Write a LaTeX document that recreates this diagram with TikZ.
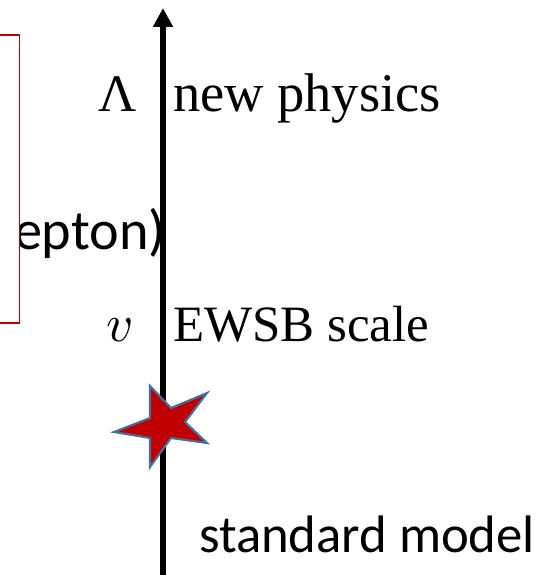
\documentclass[tikz,border=0pt]{standalone}
\usepackage{fontspec}
\setmainfont{Liberation Serif}
\setsansfont{Carlito}
\DeclareFontShape{OML}{cmm}{m}{it}{<->cmmi10}{}
\usetikzlibrary{arrows.meta}
\definecolor{cadrerouge}{RGB}{192,0,0}
\definecolor{etoilerouge}{RGB}{192,0,0}
\definecolor{bordbleu}{RGB}{65,113,156}

\begin{document}
\begin{tikzpicture}[x=0.02cm, y=-0.02cm,
    every node/.style={inner sep=0pt, outer sep=0pt},
    echelle/.style={font=\fontsize{30}{36}\selectfont, anchor=base west},
    symbole/.style={font=\fontsize{30}{36}\selectfont, anchor=base east},
    texte/.style={font=\fontsize{30}{36}\selectfont\sffamily, anchor=base west}]
    \useasboundingbox (0,0) rectangle (548,575);

    % energy axis
    \coordinate (axbas) at (163,580);
    \coordinate (axhaut) at (163,8);
    \draw[line width=3.1pt, -{Triangle[width=0.38cm,length=0.38cm]}] (axbas) -- (axhaut);

    % star on the axis
    \draw[fill=etoilerouge, draw=bordbleu, line width=1.2pt, line join=miter]
        (150,386) -- (171,408) -- (207,393) -- (185,422) -- (207,443) -- (171,438)
        -- (150,467) -- (150,438) -- (114,432) -- (150,418) -- cycle;

    \node[symbole] (lambda) at (137,111) {Λ};
    \node[echelle, font=\fontsize{31}{37}\selectfont] (np) at (173,111) {new physics};
    \node[symbole] (vev) at (134,341) {$v$};
    \node[echelle, font=\fontsize{29}{35}\selectfont] (ewsb) at (173,341) {EWSB scale};
    \node[texte] (sm) at (199,552) {standard model};

    % cut-off box on the left
    \begin{scope}
        \clip (19.5,150) rectangle (548,300);
        \node[texte, font=\fontsize{32}{38}\selectfont\sffamily] (lepton) at (14,249) {epton)};
    \end{scope}
    \draw[cadrerouge, line width=0.6pt] (-10,35) -| (19.5,323) -- (-10,323);
\end{tikzpicture}
\end{document}
